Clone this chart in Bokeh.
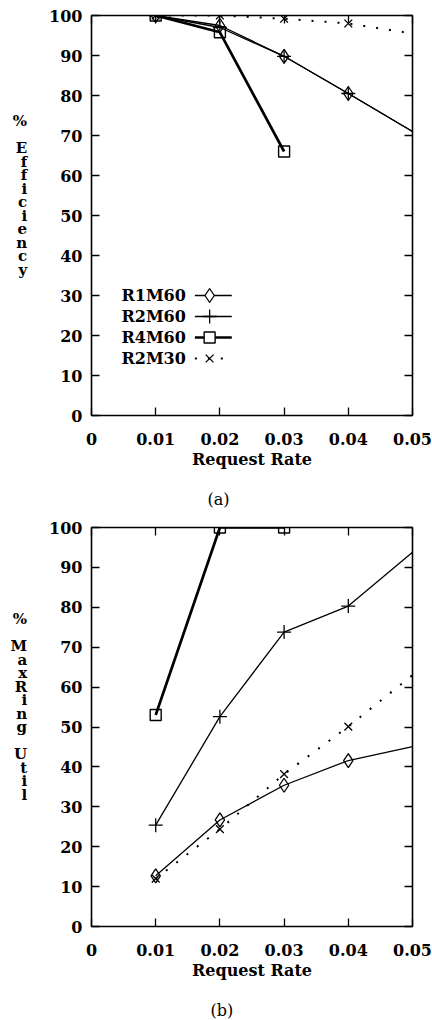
import numpy as np
from bokeh.plotting import figure
from bokeh.models import LinearAxis, Range1d, FixedTicker, Title
from bokeh.layouts import column
from bokeh.embed import file_html
from bokeh.resources import INLINE
from bokeh.core.properties import value

# ---------------- data ----------------
rate = [0.01, 0.02, 0.03, 0.04, 0.05]
series = ["R1M60", "R2M60", "R4M60", "R2M30"]

# (a) % Efficiency
eff_R1M60 = [100, 97.5, 89.8, 80.5, 71]
eff_R2M60 = [100, 97.0, 89.8, 80.5, 71]
eff_R4M60 = [100, 95.8, 66]
eff_R2M30 = [100, 100, 99.2, 98.0, 95.5]

# (b) % MaxRing Util
util_R1M60 = [12.7, 26.7, 35.4, 41.6, 45.1]
util_R2M60 = [25.4, 52.6, 73.8, 80.3, 93.8]
util_R4M60 = [53, 100, 100]
util_R2M30 = [12.0, 24.4, 38.2, 50.1, 63]

x_ticks = [0, 0.01, 0.02, 0.03, 0.04, 0.05]
x_tick_labels = ["0", "0.01", "0.02", "0.03", "0.04", "0.05"]
y_ticks = [0, 10, 20, 30, 40, 50, 60, 70, 80, 90, 100]
y_tick_labels = ["0", "10", "20", "30", "40", "50", "60", "70", "80", "90", "100"]

eff_data = {"R1M60": eff_R1M60, "R2M60": eff_R2M60, "R4M60": eff_R4M60, "R2M30": eff_R2M30}
util_data = {"R1M60": util_R1M60, "R2M60": util_R2M60, "R4M60": util_R4M60, "R2M30": util_R2M30}

# ---------------- style ----------------
FONT = "DejaVu Serif"
FS = "16px"
FSTYLE = "bold"
styles = {
    "R1M60": dict(marker="diamond", size=14, lw=1.3, dash="solid", mlw=1.3),
    "R2M60": dict(marker="cross", size=14, lw=1.3, dash="solid", mlw=1.3),
    "R4M60": dict(marker="square", size=11, lw=2.7, dash="solid", mlw=1.4),
    "R2M30": dict(marker="x", size=11, lw=2.0, dash="2 11", mlw=1.3),
}
draw_order = ["R2M30", "R4M60", "R2M60", "R1M60"]


def style_axis(ax, ticks, labels, show_labels=True):
    ax.ticker = FixedTicker(ticks=ticks)
    if show_labels:
        ax.major_label_overrides = {t: l for t, l in zip(ticks, labels)}
        ax.major_label_text_color = "black"
    else:
        ax.major_label_overrides = {t: "" for t in ticks}
        ax.major_label_text_color = None
    ax.major_tick_in = 8
    ax.major_tick_out = 0
    ax.major_tick_line_color = "black"
    ax.major_tick_line_width = 1.3
    ax.minor_tick_line_color = None
    ax.axis_line_color = None
    ax.major_label_text_font = FONT
    ax.major_label_text_font_size = FS
    ax.major_label_text_font_style = FSTYLE
    ax.axis_label_text_font = FONT
    ax.axis_label_text_font_size = FS
    ax.axis_label_text_font_style = FSTYLE
    ax.axis_label_text_color = "black"


def make_fig(height, btop, bbottom, bleft, bright, ylabel, sub, sub_off, data, legend):
    p = figure(width=432, height=height, x_range=Range1d(0, 0.05), y_range=Range1d(0, 100),
               output_backend="svg", toolbar_location=None,
               min_border_top=btop, min_border_bottom=bbottom,
               min_border_left=bleft, min_border_right=bright)
    p.grid.visible = False
    p.outline_line_color = "black"
    p.outline_line_width = 1.6
    p.outline_line_alpha = 1.0
    p.background_fill_color = "white"
    p.border_fill_color = "white"

    xa = p.xaxis[0]
    style_axis(xa, x_ticks, x_tick_labels)
    xa.major_label_standoff = 17
    xa.axis_label = "Request Rate"
    xa.axis_label_standoff = 2

    ya = p.yaxis[0]
    style_axis(ya, y_ticks, y_tick_labels)
    ya.major_label_standoff = 9
    ya.axis_label = ylabel
    ya.axis_label_orientation = "horizontal"
    ya.axis_label_standoff = 19
    ya.axis_label_text_font_size = "15px"
    ya.axis_label_text_line_height = 0.75

    top = LinearAxis()
    style_axis(top, x_ticks, x_tick_labels, show_labels=False)
    top.major_label_standoff = 0
    p.add_layout(top, "above")
    right = LinearAxis()
    style_axis(right, y_ticks, y_tick_labels, show_labels=False)
    right.major_label_standoff = 0
    p.add_layout(right, "right")

    cap = Title(text="\n" + sub, align="left", offset=sub_off, vertical_align="bottom",
                standoff=0, text_line_height=0.9, text_font=FONT, text_font_size=FS,
                text_font_style="normal", text_color="black")
    p.add_layout(cap, "below")

    for name in draw_order:
        st = styles[name]
        ys = data[name]
        xs = rate[:len(ys)]
        p.line(xs, ys, line_color="black", line_width=st["lw"], line_dash=st["dash"])
        mx = [x for x in xs if x < 0.05]
        my = ys[:len(mx)]
        p.scatter(mx, my, marker=st["marker"], size=st["size"], line_color="black",
                  line_width=st["mlw"], fill_color=None)

    if legend:
        p.extra_x_ranges = {"fx": Range1d(0, 1)}
        p.extra_y_ranges = {"fy": Range1d(0, 1)}
        rows = [0.30, 0.2475, 0.195, 0.1425]
        p.text([0.294] * 4, rows, text=series, x_range_name="fx", y_range_name="fy",
               text_align="right", text_baseline="middle", text_font=value(FONT),
               text_font_size=FS, text_font_style=FSTYLE, text_color="black")
        for name, ry in zip(series, rows):
            st = styles[name]
            p.line([0.322, 0.437], [ry, ry], x_range_name="fx", y_range_name="fy",
                   line_color="black", line_width=st["lw"], line_dash=st["dash"])
            p.scatter([0.368], [ry], x_range_name="fx", y_range_name="fy",
                      marker=st["marker"], size=st["size"], line_color="black",
                      line_width=st["mlw"], fill_color="white" if name != "R2M30" else None)
    return p


p1 = make_fig(512, 15, 97, 89, 20, "%\n\nE\nf\nf\ni\nc\ni\ne\nn\nc\ny\n\n\n", "(a)", 116,
              eff_data, True)
p2 = make_fig(508, 15, 92, 91, 17, "%\n\nM\na\nx\nR\ni\nn\ng\n\nU\nt\ni\nl\n\n\n", "(b)", 119,
              util_data, False)

layout = column(p1, p2, spacing=0)
open("out.html", "w").write(file_html(layout, INLINE))
